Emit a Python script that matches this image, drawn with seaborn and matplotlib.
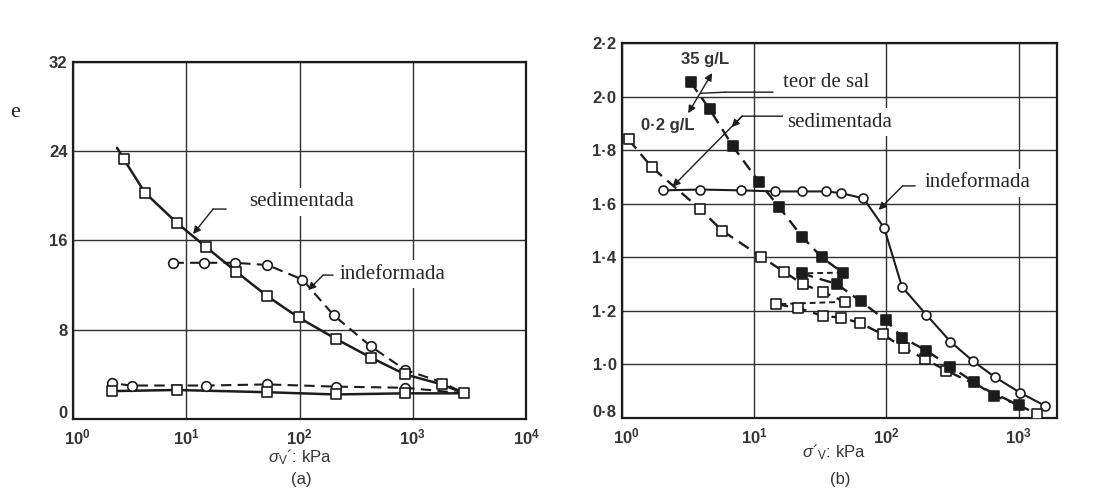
import matplotlib
matplotlib.use("Agg")
import matplotlib.pyplot as plt
import matplotlib.transforms as mtransforms
import seaborn as sns
from matplotlib.ticker import NullLocator

# (a) sedimentada / indeformada - carga e descarga
a_sed_x = [2.45, 2.8, 4.3, 8.2, 15, 27.6, 52, 98, 208, 427, 855, 1800, 2850]
a_sed_y = [24.3, 23.3, 20.3, 17.6, 15.4, 13.2, 11.0, 9.1, 7.2, 5.5, 4.0, 3.1, 2.3]
a_sed_unl_x = [2850, 855, 208, 52, 8.2, 2.2]
a_sed_unl_y = [2.3, 2.3, 2.2, 2.4, 2.6, 2.5]
a_ind_x = [7.7, 14.4, 27, 52, 106, 200, 427, 855, 1800, 2850]
a_ind_y = [14.0, 14.0, 14.0, 13.8, 12.5, 9.3, 6.5, 4.4, 3.3, 2.3]
a_ind_unl_x = [2850, 855, 208, 52, 15, 3.3, 2.2]
a_ind_unl_y = [2.3, 2.8, 2.9, 3.1, 3.0, 3.0, 3.2]

# (b) indeformada, sedimentada 35 g/L e 0.2 g/L
b_ind_x = [2.04, 3.9, 7.9, 14.3, 23, 35, 45, 67, 96, 131, 200, 305, 450, 660, 1030, 1590]
b_ind_y = [1.65, 1.653, 1.65, 1.646, 1.646, 1.646, 1.64, 1.62, 1.51, 1.29, 1.186,
           1.085, 1.013, 0.953, 0.894, 0.845]
b_35_x = [3.3, 4.6, 6.9, 10.9, 15.5, 23, 32.4, 46.5, 22.8, 42.2, 63.7, 99, 132, 200,
          305, 457, 650, 1000]
b_35_y = [2.054, 1.953, 1.814, 1.68, 1.586, 1.477, 1.40, 1.343, 1.34, 1.30, 1.236,
          1.165, 1.10, 1.052, 0.992, 0.934, 0.884, 0.849]
b_02_x = [1.12, 1.68, 3.86, 5.7, 11.2, 16.8, 23.4, 33, 48.3, 14.7, 21.5, 33, 45, 63,
          94, 136, 197, 284, 1380]
b_02_y = [1.84, 1.736, 1.582, 1.50, 1.403, 1.346, 1.299, 1.271, 1.234, 1.225, 1.211,
          1.181, 1.175, 1.155, 1.112, 1.061, 1.019, 0.977, 0.815]

x_ticks_a = [1, 10, 100, 1000, 10000]
x_labels_a = ["$10^0$", "$10^1$", "$10^2$", "$10^3$", "$10^4$"]
x_ticks_b = [1, 10, 100, 1000]
x_labels_b = ["$10^0$", "$10^1$", "$10^2$", "$10^3$"]
y_ticks_a = [0, 8, 16, 24, 32]
y_labels_a = ["0", "8", "16", "24", "32"]
y_ticks_b = [0.8, 1.0, 1.2, 1.4, 1.6, 1.8, 2.0, 2.2]
y_labels_b = ["0·8", "1·0", "1·2", "1·4", "1·6", "1·8", "2·0", "2·2"]

sns.set_theme(style="white")
plt.rcParams["font.family"] = ["Liberation Sans Narrow", "Liberation Sans", "DejaVu Sans"]
plt.rcParams["mathtext.fontset"] = "custom"
plt.rcParams["mathtext.rm"] = "Liberation Sans"
plt.rcParams["mathtext.it"] = "Liberation Sans:italic"
plt.rcParams["mathtext.default"] = "regular"

INK = "#1c1c1c"
GRID = "#303030"
SERIF = ["Liberation Serif", "DejaVu Serif"]

fig = plt.figure(figsize=(11.17, 4.88), dpi=100)
ax_a = fig.add_axes([0.0654, 0.1414, 0.4056, 0.7316])
ax_b = fig.add_axes([0.5569, 0.1434, 0.3894, 0.7684])


def style_axes(ax, xlim, ylim, xt, xl, yt, yl):
    ax.set_xscale("log")
    ax.set_xlim(*xlim)
    ax.set_ylim(*ylim)
    ax.set_xticks(xt)
    ax.set_xticklabels(xl)
    ax.set_yticks(yt)
    ax.set_yticklabels(yl)
    ax.xaxis.set_minor_locator(NullLocator())
    ax.grid(True, color=GRID, lw=1.0)
    ax.set_axisbelow(True)
    ax.tick_params(length=0, pad=4, labelsize=12, labelcolor="#333333")
    ax.tick_params(axis="x", pad=6)
    for lab in ax.get_xticklabels() + ax.get_yticklabels():
        lab.set_fontweight("bold")
    # lowest y label sits a bit above the first x label, as in the print
    low = ax.get_yticklabels()[0]
    low.set_transform(low.get_transform() +
                      mtransforms.ScaledTranslation(0, 5 / 72, fig.dpi_scale_trans))
    first = ax.get_xticklabels()[0]
    first.set_transform(first.get_transform() +
                        mtransforms.ScaledTranslation(3 / 72, 0, fig.dpi_scale_trans))
    for sp in ax.spines.values():
        sp.set_color(INK)
        sp.set_linewidth(1.6)
    ax.set_xlabel("")
    ax.set_ylabel("")


def line(ax, x, y, ls="-", lw=1.5):
    sns.lineplot(x=x, y=y, ax=ax, sort=False, estimator=None, color=INK,
                 linestyle=ls, lw=lw, zorder=2)


def pts(ax, x, y, marker, s, fill="white"):
    sns.scatterplot(x=x, y=y, ax=ax, marker=marker, s=s, color=fill,
                    edgecolor=INK, linewidth=1.2, zorder=3)


dash = (0, (5, 3))
short = (0, (3, 2))

# ---- painel (a)
line(ax_a, a_sed_x, a_sed_y, "-", 1.8)
line(ax_a, a_sed_unl_x, a_sed_unl_y, "-", 1.8)
line(ax_a, a_ind_x, a_ind_y, dash, 1.5)
line(ax_a, a_ind_unl_x, a_ind_unl_y, dash, 1.5)
pts(ax_a, a_ind_x[:8], a_ind_y[:8], "o", 48)
pts(ax_a, a_ind_unl_x[1:], a_ind_unl_y[1:], "o", 48)
pts(ax_a, a_sed_x[1:], a_sed_y[1:], "s", 55)
pts(ax_a, a_sed_unl_x[1:], a_sed_unl_y[1:], "s", 55)
style_axes(ax_a, (1, 10000), (0, 32), x_ticks_a, x_labels_a, y_ticks_a, y_labels_a)

# ---- painel (b)
line(ax_b, b_ind_x, b_ind_y, "-", 1.5)
line(ax_b, b_35_x[:8], b_35_y[:8], dash, 1.7)
line(ax_b, b_35_x[7:9], b_35_y[7:9], short, 1.4)
line(ax_b, b_35_x[8:], b_35_y[8:], dash, 1.7)
line(ax_b, b_02_x[:9], b_02_y[:9], dash, 1.7)
line(ax_b, b_02_x[8:10], b_02_y[8:10], short, 1.4)
line(ax_b, b_02_x[9:], b_02_y[9:], dash, 1.7)
pts(ax_b, b_ind_x, b_ind_y, "o", 42)
pts(ax_b, b_02_x, b_02_y, "s", 45)
pts(ax_b, b_35_x, b_35_y, "s", 48, fill=INK)
style_axes(ax_b, (1, 1950), (0.8, 2.2), x_ticks_b, x_labels_b, y_ticks_b, y_labels_b)

# ---- anotações
box = dict(facecolor="white", edgecolor="none", pad=3)
arrow = dict(arrowstyle="-|>", color=INK, lw=1.0, mutation_scale=11, shrinkA=0, shrinkB=0)
plain = dict(arrowstyle="-", color=INK, lw=1.0, shrinkA=0, shrinkB=0)
fr = "axes fraction"


def leader(ax, p0, p1, tip, style=arrow):
    ax.annotate("", xy=p1, xytext=p0, xycoords=fr, textcoords=fr, arrowprops=plain)
    ax.annotate("", xy=tip, xytext=p1, xycoords=fr, textcoords=fr, arrowprops=style)


ax_a.text(0.389, 0.608, "sedimentada", transform=ax_a.transAxes, family=SERIF,
          fontsize=15, va="center", ha="left", bbox=box, zorder=5)
leader(ax_a, (0.338, 0.588), (0.309, 0.588), (0.265, 0.518))
ax_a.text(0.589, 0.406, "indeformada", transform=ax_a.transAxes, family=SERIF,
          fontsize=15, va="center", ha="left", bbox=box, zorder=5)
leader(ax_a, (0.574, 0.403), (0.552, 0.403), (0.519, 0.361))

ax_b.text(0.191, 0.955, "35 g/L", transform=ax_b.transAxes, fontsize=12,
          fontweight="bold", color="#333333", ha="center", va="center", zorder=5)
ax_b.text(0.106, 0.781, "0·2 g/L", transform=ax_b.transAxes, fontsize=12,
          fontweight="bold", color="#333333", ha="center", va="center", zorder=5)
ax_b.text(0.370, 0.896, "teor de sal", transform=ax_b.transAxes, family=SERIF,
          fontsize=15, va="center", ha="left", bbox=box, zorder=5)
ax_b.annotate("", xy=(0.207, 0.920), xytext=(0.152, 0.813), xycoords=fr, textcoords=fr,
              arrowprops=dict(arrowstyle="<|-|>", color=INK, lw=1.0, mutation_scale=11,
                              shrinkA=0, shrinkB=0))
ax_b.annotate("", xy=(0.237, 0.869), xytext=(0.347, 0.869), xycoords=fr, textcoords=fr,
              arrowprops=plain)
ax_b.annotate("", xy=(0.180, 0.866), xytext=(0.237, 0.869), xycoords=fr, textcoords=fr,
              arrowprops=plain)
ax_b.text(0.379, 0.789, "sedimentada", transform=ax_b.transAxes, family=SERIF,
          fontsize=15, va="center", ha="left", bbox=box, zorder=5)
leader(ax_b, (0.370, 0.805), (0.276, 0.805), (0.116, 0.617))
ax_b.annotate("", xy=(0.252, 0.776), xytext=(0.276, 0.805), xycoords=fr, textcoords=fr,
              arrowprops=arrow)
ax_b.text(0.695, 0.627, "indeformada", transform=ax_b.transAxes, family=SERIF,
          fontsize=15, va="center", ha="left", bbox=box, zorder=5)
leader(ax_b, (0.674, 0.619), (0.645, 0.619), (0.590, 0.555))

fig.text(0.0134, 0.770, "e", family=SERIF, fontsize=16, ha="center", va="center")
fig.text(0.2686, 0.0635, r"$\mathit{\sigma}_V$´: kPa", fontsize=12, color="#333333",
         ha="center", va="center")
fig.text(0.270, 0.018, "(a)", fontsize=12, color="#333333", ha="center", va="center")
fig.text(0.7466, 0.074, r"$\mathit{\sigma}$´$_V$: kPa", fontsize=12, color="#333333",
         ha="center", va="center")
fig.text(0.752, 0.018, "(b)", fontsize=12, color="#333333", ha="center", va="center")

fig.savefig("out.png", dpi=100, facecolor="white")
